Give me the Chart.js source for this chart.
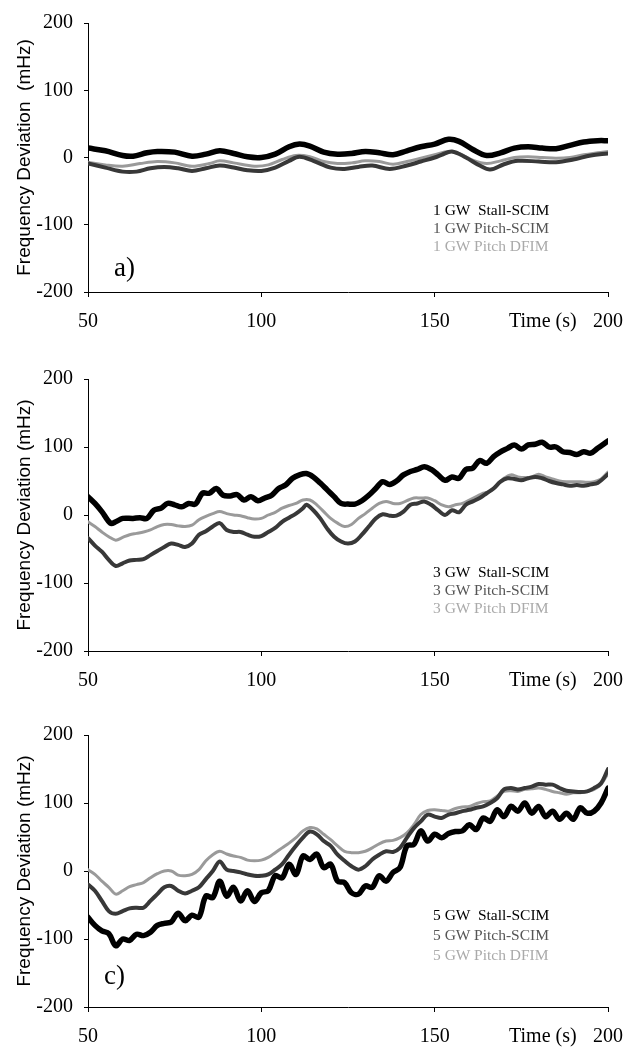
<!DOCTYPE html>
<html><head><meta charset="utf-8">
<script src="https://cdn.jsdelivr.net/npm/chart.js@4.4.0/dist/chart.umd.min.js"></script>
<style>
html,body{margin:0;padding:0;background:#fff;width:638px;height:1047px;overflow:hidden;}
.box{position:absolute;left:0;width:638px;}
canvas{display:block;}
.txt{position:absolute;font-family:"Liberation Serif","Times New Roman",serif;white-space:pre;line-height:18px;font-size:15.5px;}
.lab{position:absolute;font-family:"Liberation Serif","Times New Roman",serif;white-space:pre;line-height:1;font-size:27px;color:#000;}
.tm{position:absolute;font-family:"Liberation Serif","Times New Roman",serif;white-space:pre;line-height:1;font-size:20px;color:#000;}
</style></head><body>
<div class="box" style="top:0;height:340px"><canvas id="ca" width="638" height="340"></canvas></div>
<div class="box" style="top:340px;height:360px"><canvas id="cb" width="638" height="360"></canvas></div>
<div class="box" style="top:700px;height:347px"><canvas id="cc" width="638" height="347"></canvas></div>

<div class="txt" style="left:433px;top:201px;color:#000">1 GW  Stall-SCIM</div>
<div class="txt" style="left:433px;top:219px;color:#555">1 GW Pitch-SCIM</div>
<div class="txt" style="left:433px;top:237px;color:#aaa">1 GW Pitch DFIM</div>
<div class="lab" style="left:114px;top:254px">a)</div>
<div class="tm" style="left:509px;top:310px">Time (s)</div>

<div class="txt" style="left:433px;top:563px;color:#000">3 GW  Stall-SCIM</div>
<div class="txt" style="left:433px;top:581px;color:#555">3 GW Pitch-SCIM</div>
<div class="txt" style="left:433px;top:599px;color:#aaa">3 GW Pitch DFIM</div>
<div class="tm" style="left:509px;top:669px">Time (s)</div>

<div class="txt" style="left:433px;top:906px;color:#000">5 GW  Stall-SCIM</div>
<div class="txt" style="left:433px;top:926px;color:#555">5 GW Pitch-SCIM</div>
<div class="txt" style="left:433px;top:946px;color:#aaa">5 GW Pitch DFIM</div>
<div class="lab" style="left:104px;top:962px">c)</div>
<div class="tm" style="left:509px;top:1025px">Time (s)</div>

<script>
// ---------- data ----------
const xTicks = [50, 100, 150, 200];
const yTicks = [-200, -100, 0, 100, 200];
const seriesNames = ["Stall-SCIM", "Pitch-SCIM", "Pitch DFIM"];

// chart a) 1 GW
const aStallT = [50,55,60,63,67,70,75,80,84,88,92,96,100,104,108,111,114,118,122,126,130,134,138,142,146,150,154,157,161,165,169,173,177,181,185,189,193,197,200];
const aStallV = [14,10,3,2,7,9,8,2,5,10,6,1,0,5,16,20,17,8,5,6,9,7,4,10,16,20,27,24,12,3,7,14,16,14,13,18,23,25,25];
const aPitchT = [50,55,60,64,68,72,76,80,84,88,92,96,100,104,108,111,115,120,124,128,132,137,142,146,150,152,155,159,163,166,170,174,180,185,190,195,200];
const aPitchV = [-9,-15,-21,-21,-16,-14,-16,-20,-16,-12,-15,-19,-20,-15,-5,1,-5,-15,-17,-14,-12,-17,-12,-6,0,4,9,0,-12,-18,-10,-5,-6,-7,-3,3,6];
const aDfimT = [50,55,60,65,70,75,80,85,88,92,98,102,106,110,114,118,122,126,130,134,138,142,146,150,154,157,161,165,169,173,177,181,185,189,193,197,200];
const aDfimV = [-7,-11,-13,-9,-6,-8,-13,-9,-5,-8,-13,-11,-3,3,1,-6,-9,-8,-5,-6,-10,-6,-1,4,9,6,-4,-9,-5,0,1,0,-1,0,4,7,9];

// chart b) 3 GW
const bStallT = [50,52,54,56.5,58,60,63,65,67,69,71,73,75,77,79,81,83,85,87,89,91,93,95,97,99,101,103,105,107,109,111,113,115,117,119,121,123,125,127,129,131,133,135,137,139,141,143,145,147,149,151,153,155,157,159,161,163,165,167,169,171,173,175,177,179,181,183,185,187,189,191,193,195,197,200];
const bStallV = [27,17,5,-12,-10,-5,-5,-4,-5,7,10,17,15,12,17,16,32,32,39,29,28,30,22,27,21,25,29,39,44,54,59,61,56,47,37,27,17,16,16,21,29,39,49,45,50,59,64,67,71,67,59,51,56,54,67,69,80,76,86,93,98,103,97,103,104,107,100,100,93,92,89,93,91,98,109];
const bPitchT = [50,52,54,56,58,60,62,64,66,68,70,72,74,76,78,80,82,84,86,88,90,92,94,96,98,100,102,104,106,108,110,112,113,115,117,119,121,123,125,127,129,131,133,135,137,139,141,143,145,147,149,151,153,155,157,159,161,163,165,167,169,171,173,175,177,179,181,183,185,187,189,191,193,195,197,200];
const bPitchV = [-34,-45,-54,-66,-75,-71,-67,-66,-65,-59,-53,-47,-42,-44,-47,-42,-29,-24,-17,-12,-22,-25,-25,-29,-32,-31,-25,-19,-10,-4,2,10,15,7,-5,-20,-32,-39,-42,-39,-29,-17,-5,1,-1,-1,5,15,17,20,15,7,0,7,4,15,20,25,32,39,49,54,53,51,54,56,54,50,47,45,43,44,43,45,47,60];
const bDfimT = [50,52,54,56,58,60,62,64,66,68,70,72,74,76,78,80,82,84,86,88,90,92,94,96,98,100,102,104,106,108,110,112,114,116,118,120,122,124,126,128,130,132,134,136,138,140,142,144,146,148,150,152,154,156,158,160,162,164,166,168,170,172,174,176,178,180,182,184,186,188,190,192,194,196,198,200];
const bDfimV = [-10,-17,-25,-32,-37,-33,-29,-27,-25,-22,-17,-14,-14,-16,-17,-15,-7,-2,2,5,2,0,-1,-4,-6,-5,0,4,10,14,17,22,22,15,5,-5,-12,-17,-14,-5,2,10,17,20,17,17,21,25,25,25,21,15,12,15,17,22,27,32,35,44,54,59,56,55,56,60,56,53,50,49,49,49,48,49,53,63];

// chart c) 5 GW
const cTime = [50,52,54,56,58,60,62,64,66,68,70,72,74,76,78,80,82,84,86,88,90,92,94,96,98,100,102,104,106,108,110,112,114,116,118,120,122,124,126,128,130,132,134,136,138,140,142,144,146,148,150,152,154,156,158,160,162,164,166,168,170,172,174,176,178,180,182,184,186,188,190,192,194,196,198,200];
const cStallV = [-68,-80,-88,-92,-110,-100,-102,-93,-95,-90,-80,-77,-75,-62,-73,-65,-68,-37,-39,-15,-37,-24,-44,-29,-45,-32,-29,-7,-10,10,-5,22,17,25,5,10,-15,-17,-32,-34,-22,-24,-7,-15,-2,5,37,39,59,44,54,49,55,58,59,68,61,78,73,90,80,95,88,100,85,95,80,88,76,85,76,93,85,88,100,122];
const cPitchV = [-20,-29,-44,-59,-63,-59,-55,-54,-54,-44,-34,-24,-22,-29,-33,-29,-24,-12,0,14,2,0,-2,-5,-7,-7,-5,2,10,24,37,49,58,54,44,37,24,15,7,2,7,17,24,29,28,34,49,63,73,83,80,78,83,85,88,90,93,95,100,107,120,122,120,122,124,128,127,127,122,118,117,116,117,122,129,150];
const cDfimV = [2,-5,-15,-24,-34,-29,-23,-20,-17,-10,-4,0,0,-6,-7,-5,2,15,24,29,25,22,20,16,15,16,20,27,34,41,49,59,64,62,54,46,37,29,27,27,29,34,40,44,45,49,56,68,83,89,90,89,88,92,94,95,99,102,103,110,117,118,117,120,121,122,120,117,115,113,115,115,117,120,127,144];

// ---------- build ----------
const pts = (t, v) => t.map((x, i) => ({x: x, y: v[i]}));
const serif = '"Liberation Serif","Times New Roman",serif';

function datasets(sT, sV, pT, pV, dT, dV) {
  return [
    {label: seriesNames[0], data: pts(sT, sV), borderColor: '#000', borderWidth: 5.5},
    {label: seriesNames[1], data: pts(pT, pV), borderColor: '#383838', borderWidth: 4},
    {label: seriesNames[2], data: pts(dT, dV), borderColor: '#9a9a9a', borderWidth: 3}
  ];
}

function opts(padTop, xH) {
  return {
    responsive: false, animation: false,
    layout: {padding: {top: padTop, right: 30, left: 0, bottom: 0}},
    plugins: {legend: {display: false}, tooltip: {enabled: false}},
    elements: {point: {radius: 0}, line: {tension: 0.35, borderJoinStyle: 'round', borderCapStyle: 'round'}},
    scales: {
      x: {
        type: 'linear', min: 50, max: 200,
        afterBuildTicks: s => { s.ticks = xTicks.map(v => ({value: v})); },
        afterFit: s => { s.height = xH; },
        grid: {drawOnChartArea: false, drawTicks: true, tickLength: 5, color: '#000', lineWidth: 1},
        border: {display: true, color: '#000', width: 1},
        ticks: {font: {family: serif, size: 20}, color: '#000', padding: 13, maxRotation: 0, autoSkip: false}
      },
      y: {
        min: -200, max: 200,
        afterBuildTicks: s => { s.ticks = yTicks.map(v => ({value: v})); },
        afterFit: s => { s.width = 88; },
        grid: {drawOnChartArea: false, drawTicks: true, tickLength: 4, color: '#000', lineWidth: 1},
        border: {display: true, color: '#000', width: 1},
        ticks: {font: {family: serif, size: 20}, color: '#000', padding: 11},
        title: {display: true, text: 'Frequency Deviation (mHz)', font: {family: '"Liberation Sans",Arial,sans-serif', size: 19}, color: '#000', padding: {top: 13, bottom: 0}}
      }
    }
  };
}

const oa = opts(19, 48);
oa.scales.y.title.text = 'Frequency Deviation  (mHz)';
new Chart(document.getElementById('ca'), {type: 'line', data: {datasets: datasets(aStallT, aStallV, aPitchT, aPitchV, aDfimT, aDfimV)}, options: oa});
new Chart(document.getElementById('cb'), {type: 'line', data: {datasets: datasets(bStallT, bStallV, bPitchT, bPitchV, bDfimT, bDfimV)}, options: opts(39, 49)});
new Chart(document.getElementById('cc'), {type: 'line', data: {datasets: datasets(cTime, cStallV, cTime, cPitchV, cTime, cDfimV)}, options: opts(35, 40)});
</script>
</body></html>
